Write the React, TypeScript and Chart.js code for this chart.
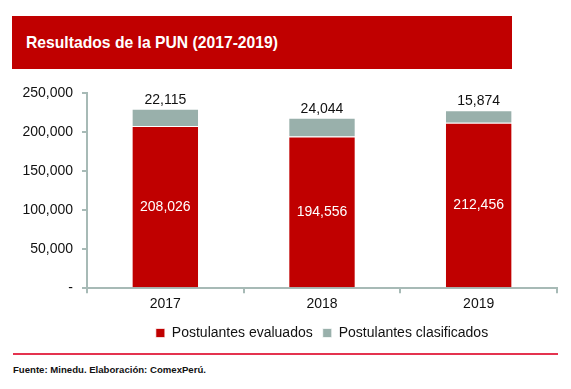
import React, { useEffect, useRef } from "react";
import { Chart, registerables } from "chart.js";

Chart.register(...registerables);

const years = ["2017", "2018", "2019"];
const evaluados = [208026, 194556, 212456];
const clasificados = [22115, 24044, 15874];
const seriesNames = ["Postulantes evaluados", "Postulantes clasificados"];
const title = "Resultados de la PUN (2017-2019)";
const footer = "Fuente: Minedu. Elaboración: ComexPerú.";

const FONT = "'Liberation Sans', Arial, sans-serif";
const RED = "#c00000";
const GRAY = "#99b0ab";
const AXIS = "#a7bab6";

const fmt = (v: number) => v.toLocaleString("en-US");

const labelPlugin = {
  id: "valueLabels",
  afterDatasetsDraw(chart: any) {
    const ctx = chart.ctx;
    ctx.save();
    ctx.font = `14px ${FONT}`;
    ctx.textAlign = "center";
    chart.data.datasets.forEach((ds: any, di: number) => {
      const meta = chart.getDatasetMeta(di);
      meta.data.forEach((el: any, i: number) => {
        const v = ds.data[i];
        if (di === 0) {
          ctx.fillStyle = "#ffffff";
          ctx.textBaseline = "middle";
          ctx.fillText(fmt(v), el.x, (el.y + el.base) / 2);
        } else {
          ctx.fillStyle = "#111111";
          ctx.textBaseline = "bottom";
          ctx.fillText(fmt(v), el.x, el.y - 2);
        }
      });
    });
    ctx.restore();
  },
};

function BarChart() {
  const ref = useRef<HTMLCanvasElement>(null);
  useEffect(() => {
    if (!ref.current) return;
    const chart = new Chart(ref.current, {
      type: "bar",
      data: {
        labels: years,
        datasets: [
          {
            label: seriesNames[0],
            data: evaluados,
            backgroundColor: RED,
            borderColor: "rgba(255,255,255,0.7)",
            borderWidth: 1,
            categoryPercentage: 1,
            barPercentage: 0.43,
          },
          {
            label: seriesNames[1],
            data: clasificados,
            backgroundColor: GRAY,
            borderColor: "rgba(255,255,255,0.7)",
            borderWidth: 1,
            categoryPercentage: 1,
            barPercentage: 0.43,
          },
        ],
      },
      options: {
        responsive: false,
        animation: false,
        layout: { padding: { left: 0, right: 14, top: 5, bottom: 0 } },
        plugins: {
          legend: {
            position: "bottom",
            fullSize: false,
            labels: {
              boxWidth: 9,
              boxHeight: 9,
              padding: 10,
              color: "#111111",
              font: { family: FONT, size: 14 },
            },
          },
          tooltip: { enabled: false },
        },
        scales: {
          x: {
            stacked: true,
            grid: {
              drawOnChartArea: false,
              tickLength: 5,
              color: AXIS,
              lineWidth: 2,
            },
            border: { color: AXIS, width: 2 },
            ticks: { color: "#111111", font: { family: FONT, size: 14 }, padding: 3 },
          },
          y: {
            stacked: true,
            min: 0,
            max: 250000,
            afterFit: (s: any) => {
              s.width = 87;
            },
            grid: {
              drawOnChartArea: false,
              tickLength: 5,
              color: AXIS,
              lineWidth: 2,
            },
            border: { color: AXIS, width: 2 },
            ticks: {
              stepSize: 50000,
              color: "#111111",
              font: { family: FONT, size: 14 },
              padding: 9,
              callback: (v: any) => (Number(v) === 0 ? "-" : fmt(Number(v))),
            },
          },
        },
      },
      plugins: [labelPlugin],
    });
    return () => chart.destroy();
  }, []);
  return <canvas ref={ref} width={571} height={274} style={{ width: 571, height: 274, display: "block" }} />;
}

export default function App() {
  return (
    <div style={{ position: "absolute", left: 0, top: 0, width: 571, height: 389, background: "#fff", fontFamily: FONT }}>
      <div
        style={{
          position: "absolute",
          left: 12,
          top: 16,
          width: 500,
          height: 53,
          background: RED,
          color: "#fff",
          fontWeight: "bold",
          fontSize: 15.7,
          lineHeight: "54px",
          paddingLeft: 14,
          boxSizing: "border-box",
          whiteSpace: "nowrap",
        }}
      >
        {title}
      </div>
      <div style={{ position: "absolute", left: 0, top: 76, width: 571, height: 274 }}>
        <BarChart />
      </div>
      <div style={{ position: "absolute", left: 13, top: 353, width: 545, height: 2, background: "#e4334f" }} />
      <div
        style={{
          position: "absolute",
          left: 13,
          top: 364,
          fontSize: 9.6,
          fontWeight: "bold",
          color: "#111",
          whiteSpace: "nowrap",
        }}
      >
        {footer}
      </div>
    </div>
  );
}
